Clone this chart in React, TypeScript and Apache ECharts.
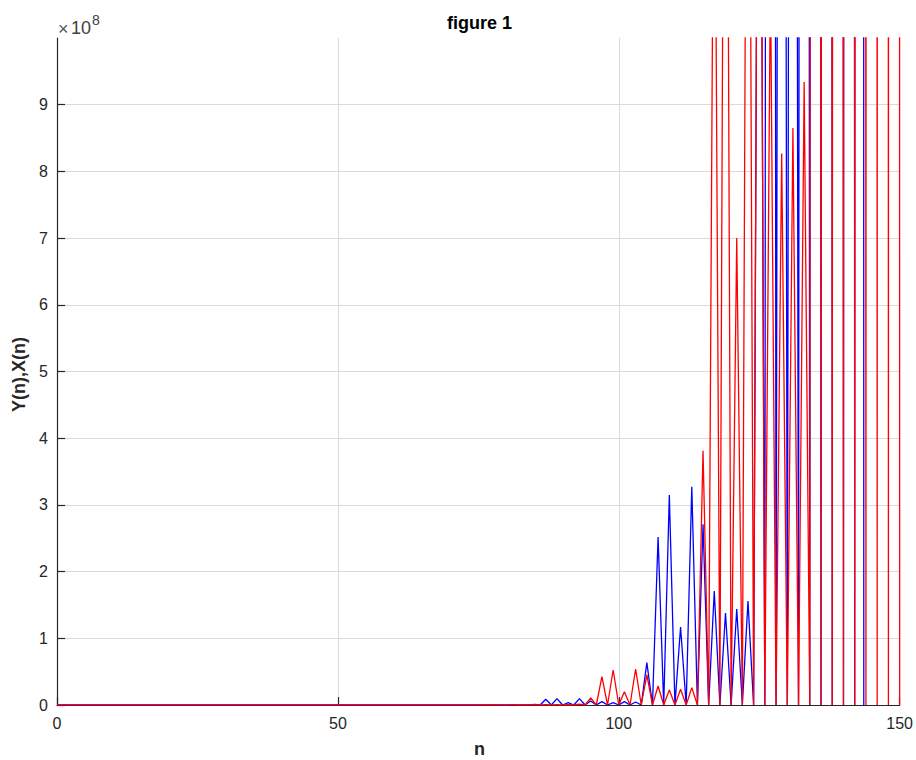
import React, { useEffect, useRef } from "react";
import * as echarts from "echarts";

// Sample index range of the sequences
const N_LAST = 150;

// Y(n): odd-index samples (even-index samples are zero)
const redN = [75, 77, 79, 81, 83, 85, 87, 89, 91, 93, 95, 97, 99, 101, 103, 105, 107, 109, 111, 113,
  115, 117, 119, 121, 123, 125, 127, 129, 131, 133, 135, 137, 139, 141, 143, 145, 147, 149];
const redY = [2e5, 4e5, 3e5, 5e5, 4e5, 6e5, 5e5, 7e5, 4e5, 1.2e6, 1.05e7, 4.25e7, 5.25e7, 2.0e7, 5.4e7, 4.5e7,
  2.85e7, 2.25e7, 2.35e7, 2.6e7, 3.81e8, 1.5e9, 2.1e9, 7.0e8, 2.0e9, 2.0e9, 1.1e9, 8.27e8, 8.65e8, 9.34e8,
  2.0e10, 3.0e10, 2.5e10, 4.0e10, 3.0e10, 5.0e10, 6.0e10, 8.0e10];

// X(n): odd-index samples, then the sign flip at the end of the run
const blueN = [81, 83, 85, 87, 89, 91, 93, 95, 97, 99, 101, 103, 105, 107, 109, 111, 113, 115, 117, 119,
  121, 123, 125, 127, 129, 131, 133, 135, 137, 139, 141, 143, 144, 145, 146, 147, 148, 149, 150];
const blueY = [1e5, 3e5, 8e5, 8.5e6, 9.5e6, 3.5e6, 9.5e6, 6e6, 5e6, 3.5e6, 5e6, 4.5e6, 6.35e7, 2.52e8,
  3.15e8, 1.17e8, 3.27e8, 2.71e8, 1.71e8, 1.38e8, 1.44e8, 1.56e8, 2.0e9, 1.0e10, 5.0e9, 5.0e9, 1.2e10,
  2.0e10, 2.5e10, 3.0e10, 3.5e10, 4.0e10, -2.5e10, -1.5e10, -3.0e10, -2.0e10, -3.5e10, -2.5e10, -4.0e10];

// Axis ticks
const xTicks = [0, 50, 100, 150];
const yTickStep = 1e8;
const yMax = 1e9;
const yExponent = "8";

function buildSeries(ns: number[], ys: number[]): [number, number][] {
  const lookup = new Map<number, number>();
  ns.forEach((n, i) => lookup.set(n, ys[i]));
  const out: [number, number][] = [];
  for (let n = 0; n <= N_LAST; n++) out.push([n, lookup.get(n) ?? 0]);
  return out;
}

const AXIS_COLOR = "#262626";
const FONT = "'Liberation Sans', Arial, Helvetica, sans-serif";

export default function App() {
  const ref = useRef<HTMLDivElement>(null);

  useEffect(() => {
    if (!ref.current) return;
    const chart = echarts.init(ref.current, undefined, { renderer: "svg" });
    const gridLeft = 57;
    const gridRight = 902;
    const gridTop = 38;
    const gridBottom = 705;
    const midX = (gridLeft + gridRight) / 2;
    const midY = (gridTop + gridBottom) / 2;

    chart.setOption({
      animation: false,
      backgroundColor: "#ffffff",
      grid: {
        left: gridLeft,
        right: 916 - gridRight,
        top: gridTop,
        bottom: 760 - gridBottom,
        containLabel: false,
      },
      xAxis: {
        type: "value",
        min: xTicks[0],
        max: xTicks[xTicks.length - 1],
        interval: xTicks[1] - xTicks[0],
        axisLine: { show: true, onZero: false, lineStyle: { color: AXIS_COLOR, width: 1.2 } },
        axisTick: { show: true, inside: true, length: 8, lineStyle: { color: AXIS_COLOR, width: 1.2 } },
        axisLabel: { color: AXIS_COLOR, fontSize: 16, fontFamily: FONT, margin: 10 },
        splitLine: { show: true, showMinLine: false, showMaxLine: false, lineStyle: { color: "#dadada", width: 1 } },
      },
      yAxis: {
        type: "value",
        min: 0,
        max: yMax,
        interval: yTickStep,
        axisLine: { show: true, lineStyle: { color: AXIS_COLOR, width: 1.2 } },
        axisTick: { show: true, inside: true, length: 8, lineStyle: { color: AXIS_COLOR, width: 1.2 } },
        axisLabel: {
          color: AXIS_COLOR,
          fontSize: 16,
          fontFamily: FONT,
          margin: 9,
          showMaxLabel: false,
          formatter: (v: number) => String(Math.round(v / yTickStep)),
        },
        splitLine: { show: true, showMinLine: false, showMaxLine: false, lineStyle: { color: "#dadada", width: 1 } },
      },
      series: [
        {
          name: "X(n)",
          type: "line",
          data: buildSeries(blueN, blueY),
          showSymbol: false,
          symbol: "none",
          clip: true,
          lineStyle: { color: "#0000ff", width: 1.3 },
          z: 2,
        },
        {
          name: "Y(n)",
          type: "line",
          data: buildSeries(redN, redY),
          showSymbol: false,
          symbol: "none",
          clip: true,
          lineStyle: { color: "#ff0000", width: 1.3 },
          z: 3,
        },
      ],
      graphic: [
        {
          type: "text",
          x: midX,
          y: 23,
          style: {
            text: "figure 1",
            fill: "#000000",
            font: `bold 18px ${FONT}`,
            textAlign: "center",
            textVerticalAlign: "middle",
          },
        },
        {
          type: "text",
          x: midX,
          y: 749,
          style: {
            text: "n",
            fill: AXIS_COLOR,
            font: `bold 18px ${FONT}`,
            textAlign: "center",
            textVerticalAlign: "middle",
          },
        },
        {
          type: "text",
          x: 19,
          y: midY + 3,
          rotation: Math.PI / 2,
          style: {
            text: "Y(n),X(n)",
            fill: AXIS_COLOR,
            font: `bold 18px ${FONT}`,
            textAlign: "center",
            textVerticalAlign: "middle",
          },
        },
        // exponent marker of the y axis: ×10^8
        {
          type: "text",
          x: 58,
          y: 29,
          style: {
            text: "×",
            fill: "#555555",
            font: `18px ${FONT}`,
            textAlign: "left",
            textVerticalAlign: "middle",
          },
        },
        {
          type: "text",
          x: 71,
          y: 28,
          style: {
            text: "10",
            fill: "#404040",
            font: `18px ${FONT}`,
            textAlign: "left",
            textVerticalAlign: "middle",
          },
        },
        {
          type: "text",
          x: 92,
          y: 20,
          style: {
            text: yExponent,
            fill: "#404040",
            font: `14px ${FONT}`,
            textAlign: "left",
            textVerticalAlign: "middle",
          },
        },
      ],
    });

    return () => chart.dispose();
  }, []);

  return (
    <div
      ref={ref}
      style={{ position: "fixed", left: 0, top: 0, width: 916, height: 760, background: "#ffffff" }}
    />
  );
}
